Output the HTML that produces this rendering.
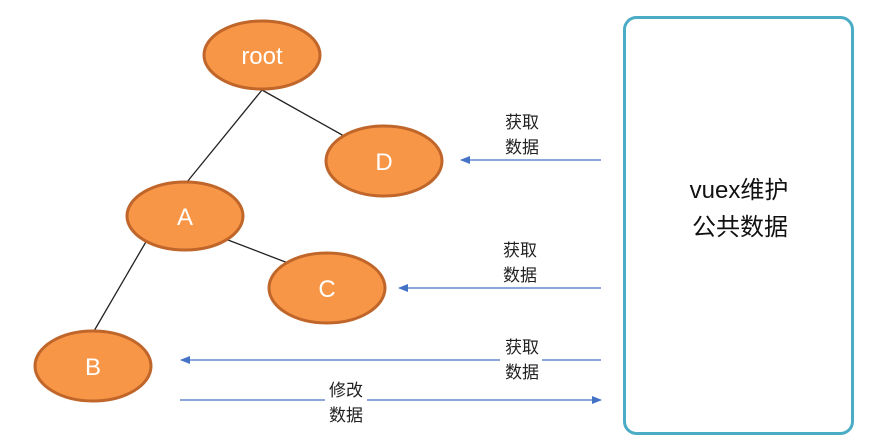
<!DOCTYPE html>
<html><head><meta charset="utf-8"><style>
html,body{margin:0;padding:0;background:#fff;width:876px;height:445px;overflow:hidden}
svg text{font-family:"Liberation Sans","Noto Sans CJK SC",sans-serif}
</style></head><body>
<svg width="876" height="445" viewBox="0 0 876 445" xmlns="http://www.w3.org/2000/svg">
<defs>
<marker id="ah" markerWidth="10" markerHeight="8" refX="9" refY="4" orient="auto" markerUnits="userSpaceOnUse">
<path d="M0,0 L10,4 L0,8 Z" fill="#4472C4"/></marker>
</defs>
<g stroke="#222" stroke-width="1.3">
<line x1="262" y1="90" x2="187" y2="182"/>
<line x1="262" y1="90" x2="344" y2="136"/>
<line x1="147" y1="240" x2="94" y2="331"/>
<line x1="228" y1="240" x2="288" y2="263"/>
</g>
<g fill="#F79646" stroke="#C0662A" stroke-width="3">
<ellipse cx="262" cy="55" rx="58" ry="34"/>
<ellipse cx="384" cy="161" rx="58" ry="35"/>
<ellipse cx="185" cy="216" rx="58" ry="34"/>
<ellipse cx="327" cy="288" rx="58" ry="35"/>
<ellipse cx="93" cy="366" rx="58" ry="35"/>
</g>
<g fill="#fff" font-size="24" text-anchor="middle">
<text x="262" y="64">root</text>
<text x="384" y="170">D</text>
<text x="185" y="225">A</text>
<text x="327" y="297">C</text>
<text x="93" y="375">B</text>
</g>
<g stroke="#4472C4" stroke-width="1.3" fill="none">
<line x1="601" y1="160" x2="461" y2="160" marker-end="url(#ah)"/>
<line x1="601" y1="288" x2="399" y2="288" marker-end="url(#ah)"/>
<line x1="601" y1="360" x2="181" y2="360" marker-end="url(#ah)"/>
<line x1="180" y1="400" x2="601" y2="400" marker-end="url(#ah)"/>
</g>
<rect x="500" y="352" width="42" height="16" fill="#fff"/>
<rect x="325" y="392" width="42" height="16" fill="#fff"/>
<g fill="#222" font-size="17" text-anchor="middle">
<text x="522" y="128">获取</text><text x="522" y="153">数据</text>
<text x="520" y="256">获取</text><text x="520" y="281">数据</text>
<text x="522" y="353">获取</text><text x="522" y="378">数据</text>
<text x="346" y="396">修改</text><text x="346" y="421">数据</text>
</g>
<rect x="624.5" y="17.5" width="228" height="416" rx="12" fill="none" stroke="#4BACC6" stroke-width="3"/>
<g fill="#111" font-size="24" text-anchor="middle">
<text x="739" y="198">vuex维护</text>
<text x="740" y="235">公共数据</text>
</g>
</svg>
</body></html>
